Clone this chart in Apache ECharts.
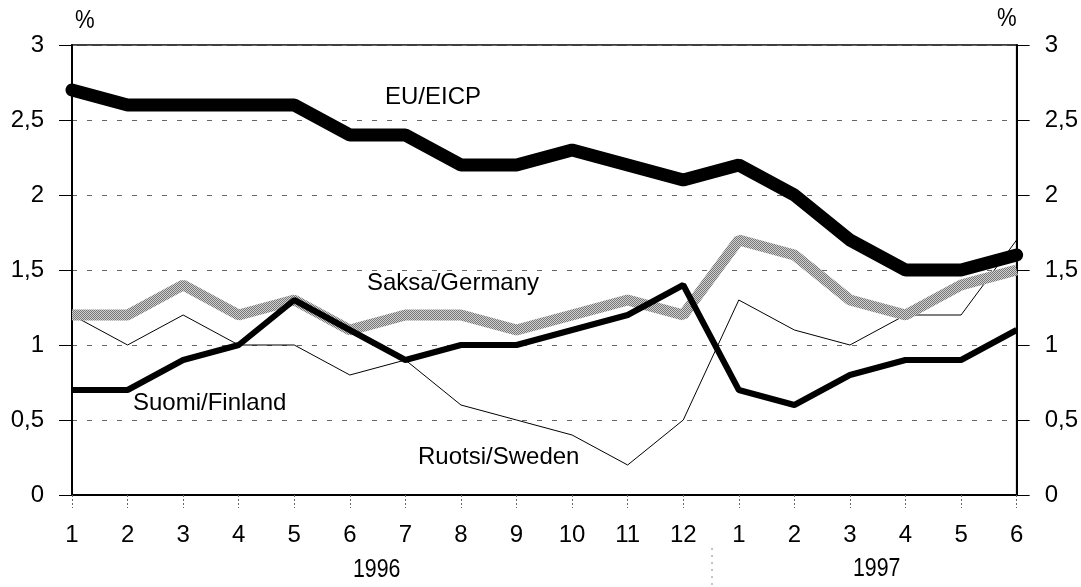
<!DOCTYPE html>
<html><head><meta charset="utf-8">
<script src="https://cdn.jsdelivr.net/npm/echarts@6/dist/echarts.min.js"></script>
<style>html,body{margin:0;padding:0;background:#fff}#c{width:1081px;height:587px}</style>
</head><body><div id="c"></div>
<script>
const categories = ['1','2','3','4','5','6','7','8','9','10','11','12','1','2','3','4','5','6'];
const euEicp  = [2.7,2.6,2.6,2.6,2.6,2.4,2.4,2.2,2.2,2.3,2.2,2.1,2.2,2.0,1.7,1.5,1.5,1.6];
const germany = [1.2,1.2,1.4,1.2,1.3,1.1,1.2,1.2,1.1,1.2,1.3,1.2,1.7,1.6,1.3,1.2,1.4,1.5];
const finland = [0.7,0.7,0.9,1.0,1.3,1.1,0.9,1.0,1.0,1.1,1.2,1.4,0.7,0.6,0.8,0.9,0.9,1.1];
const sweden  = [1.2,1.0,1.2,1.0,1.0,0.8,0.9,0.6,0.5,0.4,0.2,0.5,1.3,1.1,1.0,1.2,1.2,1.7];
const years = ['1996','1997'];

const FONT = "'Liberation Sans', Arial, Helvetica, sans-serif";
// dithered gray pattern for Germany line
const pc = document.createElement('canvas'); pc.width = 2; pc.height = 2;
const px = pc.getContext('2d');
px.fillStyle = '#d0d0d0'; px.fillRect(0,0,2,2);
px.fillStyle = '#777777'; px.fillRect(0,0,1,1); px.fillRect(1,1,1,1);

const chart = echarts.init(document.getElementById('c'), null, {renderer:'canvas'});
const fmt = v => String(v).replace('.', ',');
const yAxisBase = {
  type:'value', min:0, max:3, interval:0.5,
  axisLine:{show:true, lineStyle:{color:'#000', width:2}},
  axisTick:{show:true, length:13, lineStyle:{color:'#000', width:1}},
  axisLabel:{fontFamily:FONT, fontSize:24, color:'#000', formatter:fmt, margin:28},
  splitLine:{show:false}
};
chart.setOption({
  animation:false,
  backgroundColor:'#fff',
  grid:{left:72, right:64, top:45, bottom:92, show:true, borderColor:'#000', borderWidth:1.5},
  xAxis:{type:'category', data:categories, boundaryGap:false,
    axisLine:{lineStyle:{color:'#000', width:2}},
    axisTick:{show:true, length:13, lineStyle:{color:'#666', width:1, type:[2,2]}},
    axisLabel:{fontFamily:FONT, fontSize:24, color:'#000', margin:28, interval:0}
  },
  yAxis:[
    Object.assign({}, yAxisBase, {position:'left',
      splitLine:{show:true, lineStyle:{color:'#666', type:[5,10], width:1}}}),
    Object.assign({}, yAxisBase, {position:'right'})
  ],
  series:[
    {name:'Ruotsi/Sweden', type:'line', data:sweden, symbol:'none', z:2,
      lineStyle:{color:'#000', width:1}},
    {name:'Saksa/Germany', type:'line', data:germany, symbol:'none', z:3,
      lineStyle:{color:{image:pc, repetition:'repeat'}, width:11}},
    {name:'Suomi/Finland', type:'line', data:finland, symbol:'none', z:4,
      lineStyle:{color:'#000', width:6}},
    {name:'EU/EICP', type:'line', data:euEicp, symbol:'none', z:5,
      lineStyle:{color:'#000', width:13, cap:'round'}}
  ],
  graphic:[
    {type:'text', x:75, y:8, scaleX:0.85, style:{text:'%', font:'26px '+FONT, fill:'#000'}},
    {type:'text', x:997, y:6, scaleX:0.85, style:{text:'%', font:'26px '+FONT, fill:'#000'}},
    {type:'text', left:385, top:85, style:{text:'EU/EICP', font:'24px '+FONT, fill:'#000'}},
    {type:'text', left:367, top:271, style:{text:'Saksa/Germany', font:'24px '+FONT, fill:'#000'}},
    {type:'text', left:133, top:391, style:{text:'Suomi/Finland', font:'24px '+FONT, fill:'#000'}},
    {type:'text', left:418, top:445, style:{text:'Ruotsi/Sweden', font:'24px '+FONT, fill:'#000'}},
    {type:'text', x:353, y:557, scaleX:0.82, style:{text:years[0], font:'26px '+FONT, fill:'#000'}},
    {type:'text', x:853, y:556, scaleX:0.82, style:{text:years[1], font:'26px '+FONT, fill:'#000'}},
    {type:'line', shape:{x1:712, y1:548, x2:712, y2:587}, style:{stroke:'#888', lineWidth:1, lineDash:[2,5]}}
  ]
});
</script></body></html>
